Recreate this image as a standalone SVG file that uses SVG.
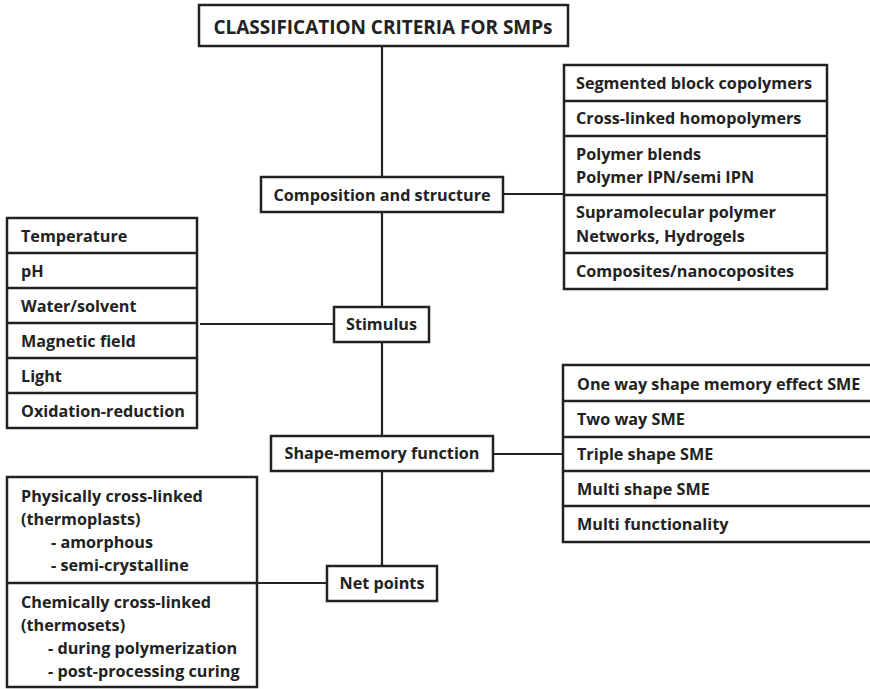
<svg xmlns="http://www.w3.org/2000/svg" width="870" height="689" viewBox="0 0 870 689">
<style>
.box{fill:#fff;stroke:#222;stroke-width:2.5}
.sep{stroke:#222;stroke-width:2.5}
.ln{stroke:#222;stroke-width:2.2;fill:none}
text{font-family:"Open Sans","Liberation Sans",sans-serif;font-weight:bold;font-size:16.2px;fill:#222}
.c{text-anchor:middle}
.t{font-size:20px}
</style>
<rect width="870" height="689" fill="#fff"/>
<g id="connectors">
<line class="ln" x1="382" y1="46" x2="382" y2="566"/>
<line class="ln" x1="503" y1="194" x2="564" y2="194"/>
<line class="ln" x1="200" y1="324" x2="334" y2="324"/>
<line class="ln" x1="493" y1="454" x2="563" y2="454"/>
<line class="ln" x1="257" y1="583" x2="327" y2="583"/>
</g>
<g id="title">
<rect class="box" x="199" y="5" width="369" height="41"/>
<text class="c t" x="383" y="34" textLength="339" lengthAdjust="spacingAndGlyphs">CLASSIFICATION CRITERIA FOR SMPs</text>
</g>
<g id="composition">
<rect class="box" x="261" y="177" width="242" height="35"/>
<text class="c" x="382" y="201">Composition and structure</text>
</g>
<g id="composition-types">
<rect class="box" x="564" y="65" width="263" height="224"/>
<line class="sep" x1="564" y1="101" x2="827" y2="101"/>
<line class="sep" x1="564" y1="136" x2="827" y2="136"/>
<line class="sep" x1="564" y1="195" x2="827" y2="195"/>
<line class="sep" x1="564" y1="253" x2="827" y2="253"/>
<text x="576" y="89">Segmented block copolymers</text>
<text x="576" y="124">Cross-linked homopolymers</text>
<text x="576" y="160">Polymer blends</text>
<text x="576" y="183">Polymer IPN/semi IPN</text>
<text x="576" y="218">Supramolecular polymer</text>
<text x="576" y="242">Networks, Hydrogels</text>
<text x="576" y="277">Composites/nanocoposites</text>
</g>
<g id="stimulus">
<rect class="box" x="334" y="307" width="95" height="35"/>
<text class="c" x="381.5" y="330">Stimulus</text>
</g>
<g id="stimulus-types">
<rect class="box" x="7" y="218" width="190" height="210"/>
<line class="sep" x1="7" y1="253" x2="197" y2="253"/>
<line class="sep" x1="7" y1="288" x2="197" y2="288"/>
<line class="sep" x1="7" y1="323" x2="197" y2="323"/>
<line class="sep" x1="7" y1="358" x2="197" y2="358"/>
<line class="sep" x1="7" y1="393" x2="197" y2="393"/>
<text x="21" y="242">Temperature</text>
<text x="21" y="277">pH</text>
<text x="21" y="312">Water/solvent</text>
<text x="21" y="347">Magnetic field</text>
<text x="21" y="382">Light</text>
<text x="21" y="417">Oxidation-reduction</text>
</g>
<g id="shape-memory">
<rect class="box" x="271" y="436" width="222" height="35"/>
<text class="c" x="382" y="459">Shape-memory function</text>
</g>
<g id="sme-types">
<rect class="box" x="563" y="365" width="312" height="177"/>
<line class="sep" x1="563" y1="401" x2="875" y2="401"/>
<line class="sep" x1="563" y1="437" x2="875" y2="437"/>
<line class="sep" x1="563" y1="471" x2="875" y2="471"/>
<line class="sep" x1="563" y1="506" x2="875" y2="506"/>
<text x="577" y="390">One way shape memory effect SME</text>
<text x="577" y="425">Two way SME</text>
<text x="577" y="460">Triple shape SME</text>
<text x="577" y="495">Multi shape SME</text>
<text x="577" y="530">Multi functionality</text>
</g>
<g id="net-points">
<rect class="box" x="327" y="566" width="110" height="35"/>
<text class="c" x="382" y="589">Net points</text>
</g>
<g id="net-point-types">
<rect class="box" x="7" y="477" width="250" height="210"/>
<line class="sep" x1="7" y1="583" x2="257" y2="583"/>
<text x="21" y="502">Physically cross-linked</text>
<text x="21" y="525">(thermoplasts)</text>
<text x="51" y="548">- amorphous</text>
<text x="51" y="571">- semi-crystalline</text>
<text x="21" y="608">Chemically cross-linked</text>
<text x="21" y="631">(thermosets)</text>
<text x="48" y="654">- during polymerization</text>
<text x="48" y="677">- post-processing curing</text>
</g>
</svg>
